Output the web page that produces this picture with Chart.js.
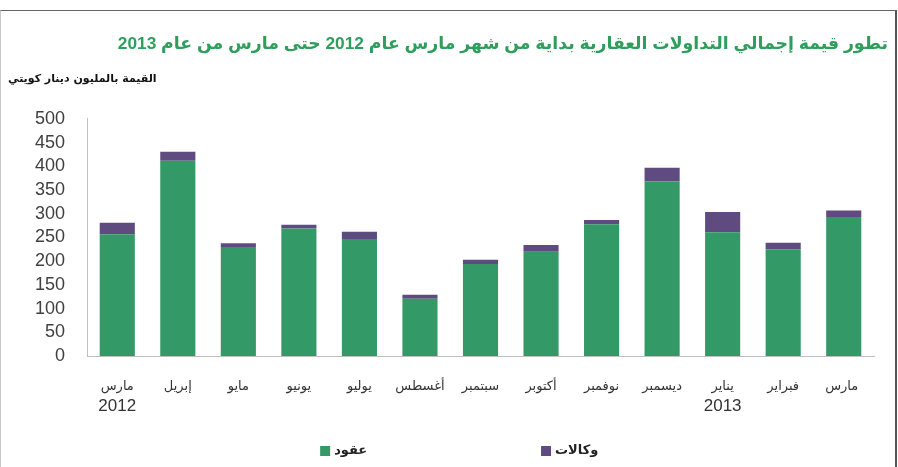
<!DOCTYPE html>
<html>
<head>
<meta charset="utf-8">
<script src="https://cdn.jsdelivr.net/npm/chart.js@4/dist/chart.umd.min.js"></script>
<style>
  html, body { margin: 0; padding: 0; background: #ffffff; }
  #wrap { position: relative; width: 898px; height: 467px; overflow: hidden; }
  #frame { position: absolute; top: 10px; left: 0; width: 897px; height: 470px; box-sizing: border-box;
           border-top: 1px solid #666; border-left: 1px solid #c8c8c8; border-right: 2px solid #555; pointer-events: none; }
  canvas { position: absolute; top: 0; left: 0; }
</style>
</head>
<body>
<div id="wrap">
  <canvas id="c" width="898" height="467"></canvas>
  <div id="frame"></div>
</div>
<script>
const categories = ['مارس', 'إبريل', 'مايو', 'يونيو', 'يوليو', 'أغسطس', 'سبتمبر', 'أكتوبر', 'نوفمبر', 'ديسمبر', 'يناير', 'فبراير', 'مارس '];
const yearLabels = ['2012', '', '', '', '', '', '', '', '', '', '2013', '', ''];
const contracts = [257, 412, 230, 269, 247, 121, 194, 220, 278, 368, 261, 225, 293];
const agencies = [24, 19, 8, 8, 15, 8, 9, 14, 9, 29, 43, 14, 14];
const seriesNames = ['عقود', 'وكالات'];
const yTicks = [0, 50, 100, 150, 200, 250, 300, 350, 400, 450, 500];
const titleText = 'تطور قيمة إجمالي التداولات العقارية بداية من شهر مارس عام 2012 حتى مارس من عام 2013';
const subtitleText = 'القيمة بالمليون دينار كويتي';

const GREEN = '#339966';
const PURPLE = '#5f4b80';

// Legend drawn from the datasets, spread wide like the reference
const wideLegend = {
  id: 'wideLegend',
  afterDraw(chart) {
    const ctx = chart.ctx;
    const xs = [chart.width * 0.3565, chart.width * 0.6025];
    const y = chart.height - 16;
    ctx.save();
    ctx.font = 'bold 13px "DejaVu Sans", sans-serif';
    ctx.textBaseline = 'middle';
    ctx.textAlign = 'left';
    chart.data.datasets.forEach((ds, i) => {
      ctx.fillStyle = ds.backgroundColor;
      ctx.fillRect(xs[i], y - 5, 10, 10);
      ctx.fillStyle = '#222';
      ctx.fillText(ds.label, xs[i] + 14, y);
    });
    ctx.restore();
  }
};

new Chart(document.getElementById('c'), {
  type: 'bar',
  data: {
    labels: categories,
    datasets: [
      { label: seriesNames[0], data: contracts, backgroundColor: GREEN, stack: 's' },
      { label: seriesNames[1], data: agencies, backgroundColor: PURPLE, stack: 's' }
    ]
  },
  plugins: [wideLegend],
  options: {
    responsive: false,
    animation: false,
    devicePixelRatio: 1,
    layout: { padding: { left: 8, right: 10, top: 0, bottom: 48 } },
    datasets: { bar: { barPercentage: 0.58, categoryPercentage: 1.0 } },
    scales: {
      x: {
        stacked: true,
        afterFit: (axis) => { axis.height = 39; },
        grid: { display: false, drawTicks: false },
        border: { display: true, color: '#c0c0c0', width: 1 },
        ticks: { color: '#333', padding: 23, maxRotation: 0, autoSkip: false,
                 font: { family: '"DejaVu Sans", sans-serif', size: 13 } }
      },
      x2: {
        type: 'category',
        labels: yearLabels,
        position: 'bottom',
        offset: true,
        afterFit: (axis) => { axis.height = 24; },
        grid: { display: false, drawTicks: false },
        border: { display: false },
        ticks: { color: '#333', padding: 1, maxRotation: 0, autoSkip: false,
                 font: { family: '"Liberation Sans", sans-serif', size: 17 } }
      },
      y: {
        stacked: true,
        min: 0, max: 500,
        afterBuildTicks: (axis) => { axis.ticks = yTicks.map(v => ({ value: v })); },
        afterFit: (axis) => { axis.width = 79; },
        grid: { display: false, drawTicks: false },
        border: { display: true, color: '#c0c0c0', width: 1 },
        ticks: { color: '#404040', padding: 22, autoSkip: false,
                 font: { family: '"Liberation Sans", sans-serif', size: 18 } }
      },
      y2: {
        position: 'right',
        min: 0, max: 500,
        afterFit: (axis) => { axis.width = 14; },
        grid: { display: false, drawTicks: false },
        border: { display: false },
        ticks: { display: false }
      }
    },
    plugins: {
      title: {
        display: true,
        text: '\u202B' + titleText + '\u202C',
        align: 'end',
        color: '#2f9e5c',
        font: { family: '"Liberation Sans", "DejaVu Sans", sans-serif', size: 17.3, weight: 'bold' },
        padding: { top: 34, bottom: 18 }
      },
      subtitle: {
        display: true,
        text: subtitleText,
        align: 'start',
        color: '#111',
        font: { family: '"DejaVu Sans", sans-serif', size: 11, weight: 'bold' },
        padding: { top: 0, bottom: 33 }
      },
      legend: { display: false },
      tooltip: { enabled: false }
    }
  }
});
</script>
</body>
</html>
